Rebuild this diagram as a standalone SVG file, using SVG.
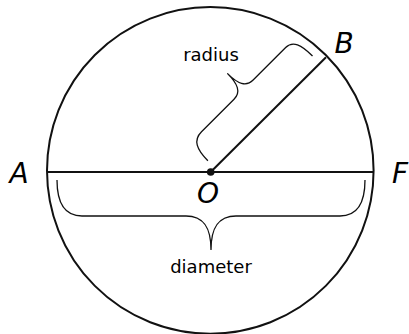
<svg xmlns="http://www.w3.org/2000/svg" width="409" height="334" viewBox="0 0 409 334">
<style>
.thick{fill:none;stroke:#111;stroke-width:2}
.brace{fill:none;stroke:#111;stroke-width:1.3}
.pt{font-family:"DejaVu Sans",sans-serif;font-style:italic;font-size:28px;fill:#000}
.lbl{font-family:"DejaVu Sans",sans-serif;font-size:18px;fill:#000}
</style>
<rect width="409" height="334" fill="#fff"/>
<g id="circle">
<circle class="thick" cx="210.3" cy="170.4" r="163.3"/>
</g>
<g id="connectors">
<line class="thick" x1="47" y1="172" x2="373.6" y2="172"/>
<line class="thick" x1="210.7" y1="172" x2="326" y2="57.3"/>
</g>
<g id="diameter-brace">
<path class="brace" d="M57,180 C57,203 64,216 82,216 L186,216 C204,216 211,228 211,250 C211,228 218,216 236,216 L340,216 C358,216 365,203 365,180"/>
<text class="lbl" x="211" y="273" text-anchor="middle">diameter</text>
</g>
<g id="radius-brace">
<path class="brace" transform="translate(210.7,172) rotate(-45)" d="M6,-10 C6,-26 10,-35 22,-35 L68,-35 C78,-35 81.5,-43 81.5,-58 C81.5,-43 85,-35 95,-35 L141,-35 C151,-35 154,-26 154,-10"/>
<text class="lbl" x="211" y="61" text-anchor="middle">radius</text>
</g>
<g id="O">
<circle cx="210.7" cy="172" r="3.8" fill="#111"/>
<text class="pt" x="208" y="203" text-anchor="middle">O</text>
</g>
<g id="A"><text class="pt" x="19" y="183" text-anchor="middle">A</text></g>
<g id="F"><text class="pt" x="400" y="183" text-anchor="middle">F</text></g>
<g id="B"><text class="pt" x="344" y="53" text-anchor="middle">B</text></g>
</svg>
